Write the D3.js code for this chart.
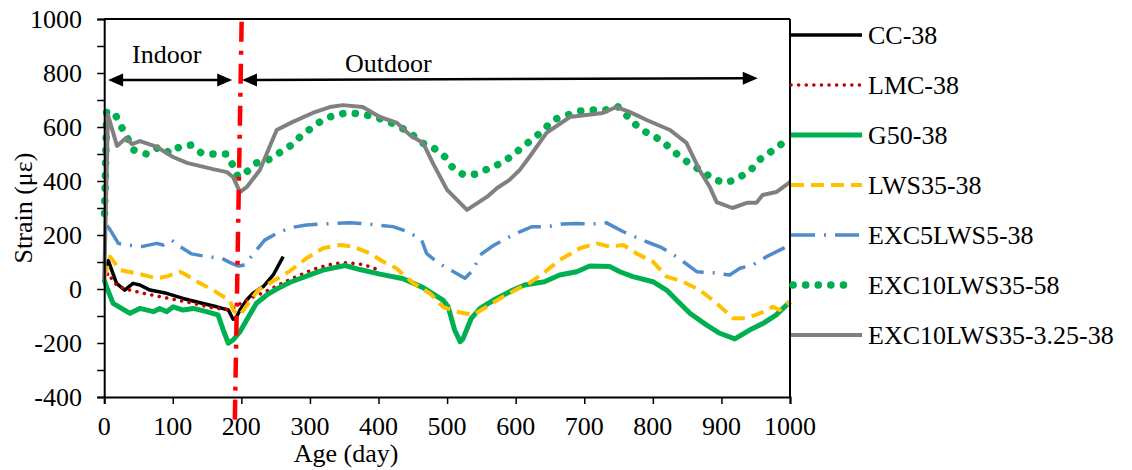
<!DOCTYPE html>
<html>
<head>
<meta charset="utf-8">
<script src="https://cdn.jsdelivr.net/npm/d3@7/dist/d3.min.js"></script>
<style>
html,body{margin:0;padding:0;background:#fff;}
</style>
</head>
<body>
<svg id="chart" width="1132" height="470" font-family="Liberation Serif"></svg>
<script>
// ---- data ----
const seriesNames = ["CC-38","LMC-38","G50-38","LWS35-38","EXC5LWS5-38","EXC10LWS35-58","EXC10LWS35-3.25-38"];
const xTicks = [0,100,200,300,400,500,600,700,800,900,1000];
const yTickLabels = [-400,-200,0,200,400,600,800,1000];
const yMinorTicks = [-400,-300,-200,-100,0,100,200,300,400,500,600,700,800,900,1000];

const cc38 = [[0,40],[6,105],[18,21],[30,-4],[42,21],[52,15],[66.8,-4],[91,-16],[115,-35],[139.7,-51],[164,-66],[181,-78],[188,-112],[192,-108],[198,-78],[207.7,-41],[217,-16],[232,9],[246.5,52],[261,120]];
const lmc38 = [[0,30],[6,60],[13,27],[23,6],[33,-1],[57,-16],[81,-28],[105.7,-41],[130,-53],[154,-68],[173.6,-75],[186,-75],[198,-55],[212.5,-35],[235,-10],[262,25],[293,60],[305,73],[326.7,89],[339,95],[351,97],[363,95],[375,91],[387.5,83],[397,73]];
const g5038 = [[0,35],[3,10],[13,-53],[37.6,-90],[52,-72],[71.6,-84],[81,-72],[91,-84],[100.7,-66],[115,-78],[130,-72],[149,-84],[166,-96],[173.6,-152],[181,-201],[188,-189],[198,-158],[207.7,-115],[222,-53],[237,-22],[251.5,0],[271,25],[300,52],[319,70],[351,87],[373,72],[402,55],[436,38],[465,5],[494,-41],[501.6,-66],[511,-152],[519,-195],[523,-185],[535,-110],[548,-72],[570,-38],[596,-4],[613,15],[642,27],[664,52],[689,64],[708,85],[737,83],[752,64],[771,46],[800,27],[820,-4],[834.5,-41],[854,-90],[878,-133],[897.6,-164],[919.5,-185],[941,-152],[961,-127],[980,-96],[1000,-47]];
const lws3538 = [[0,40],[8.5,120],[23,70],[47,58],[76.5,40],[91,46],[110.5,64],[120,52],[139.7,21],[159,-4],[173.6,-28],[183,-41],[188,-78],[193,-90],[198,-96],[210,-53],[224,-5],[251.5,37],[271,67],[295,114],[319,151],[344,163],[363,157],[387.5,132],[407,101],[426,77],[450.7,21],[475,-16],[494,-66],[514,-84],[538,-96],[557.6,-66],[582,-28],[606,5],[616,15],[640,58],[664,107],[693.6,151],[718,169],[737,157],[757,163],[776,132],[800,101],[820,46],[844,27],[868.5,-4],[893,-53],[917,-108],[936.6,-108],[956,-90],[975,-66],[985,-78],[1000,-47]];
const exc5lws538 = [[4,235],[8.5,220],[20.6,169],[32.8,163],[54.7,157],[76.5,169],[86,163],[98.4,181],[110.5,157],[127.5,130],[149,120],[171,114],[186,95],[196,85],[205,89],[220,138],[234,181],[251.5,206],[271,227],[295,237],[334,243],[358,245],[382.6,241],[421,231],[443,212],[463,181],[470,132],[484.7,101],[505,70],[526,40],[538,70],[548,126],[567,160],[587,188],[606,212],[624,231],[647,231],[669,241],[689,243],[711,241],[732.5,245],[757,212],[791,175],[813,153],[834.5,120],[864,64],[888,60],[912,52],[927,77],[946,89],[966,120],[985,144],[1000,163]];
const exc10lws3558 = [[0.5,280],[3.6,657],[15.7,648],[24.5,604],[33,563],[43,515],[62,500],[81,527],[96,503],[110,527],[126.5,533],[142,503],[160,500],[178.6,500],[188,456],[195,415],[208,434],[222,467],[239,478],[256,505],[273,533],[287,567],[302,596],[318.5,626],[336,644],[355,653],[375,648],[395,637],[414,620],[431,601],[448,574],[464,541],[481,521],[497,489],[508.6,448],[524.5,422],[543,426],[562,448],[580,467],[596,496],[610.5,527],[626.5,559],[641,589],[654,626],[673,642],[692,659],[711,663],[731,663],[749,675],[764,637],[778,601],[794,574],[812,552],[826,519],[842,485],[857,459],[873,434],[890,404],[908,393],[927,415],[942,438],[955,478],[972,508],[987.6,537],[1000,555]];
const exc10lws35325 = [[0,30],[5.5,644],[18.7,530],[31.8,559],[40.5,537],[52.2,548],[77,526],[100.3,489],[120.7,467],[158.6,444],[179,433],[187.8,415],[198,359],[208,378],[227,441],[251.5,589],[275,619],[304,652],[329,674],[348,681],[377,674],[402,637],[427,615],[446,570],[465,541],[479,467],[500,367],[529,293],[558,341],[573,374],[591,404],[606,441],[620,489],[645,578],[679,637],[727,652],[747,674],[766,656],[791,626],[825,589],[849,541],[868,441],[883,378],[893,322],[916,300],[937,319],[951,319],[960,348],[980,359],[1000,396]];

const redLine = [[200.4,990],[190.5,-485]];
const indoorArrow = [[5.7,774],[186.6,774]];
const outdoorArrow = [[200.9,774],[953,781]];

// ---- styles ----
const styles = [
  {stroke:"#000000", width:3.5, dash:null, cap:"butt"},
  {stroke:"#c00000", width:3.5, dash:"0.1 7.5", cap:"round"},
  {stroke:"#00b050", width:5, dash:null, cap:"butt"},
  {stroke:"#ffc000", width:4, dash:"13 7", cap:"butt"},
  {stroke:"#4f8cc9", width:3.5, dash:"24 9 2 9", cap:"butt"},
  {stroke:"#00b050", width:7.5, dash:"0.1 12.5", cap:"round"},
  {stroke:"#808080", width:4, dash:null, cap:"butt"}
];
const seriesData = [cc38,lmc38,g5038,lws3538,exc5lws538,exc10lws3558,exc10lws35325];

// ---- chart ----
const svg = d3.select("#chart");
const L=104.2, R=790, T=19, B=397;
const x = d3.scaleLinear().domain([0,1000]).range([L,R]);
const y = d3.scaleLinear().domain([-400,1000]).range([B,T]);

const line = d3.line().x(d=>x(d[0])).y(d=>y(d[1]));

// series
const g = svg.append("g");
seriesData.forEach((d,i)=>{
  const s = styles[i];
  g.append("path").attr("d",line(d)).attr("fill","none")
    .attr("stroke",s.stroke).attr("stroke-width",s.width)
    .attr("stroke-dasharray",s.dash).attr("stroke-linecap",s.cap)
    .attr("stroke-linejoin","round");
});

// frame
svg.append("line").attr("x1",L).attr("x2",R).attr("y1",T).attr("y2",T).attr("stroke","#000").attr("stroke-width",2);
svg.append("line").attr("x1",R).attr("x2",R).attr("y1",T).attr("y2",B).attr("stroke","#000").attr("stroke-width",2);

// y axis
const yAxis = d3.axisLeft(y).tickValues(yMinorTicks).tickSize(7).tickFormat("");
const ya = svg.append("g").attr("transform",`translate(${L},0)`).call(yAxis);
ya.select(".domain").attr("stroke-width",2);
ya.selectAll(".tick line").attr("stroke-width",1.5);
yTickLabels.forEach(v=>{
  svg.append("text").attr("x",82).attr("y",y(v)).attr("dy","0.35em")
    .attr("text-anchor","end").attr("font-size",26).text(v);
});

// x axis
const xAxis = d3.axisBottom(x).tickValues(xTicks).tickSize(7).tickFormat("");
const xa = svg.append("g").attr("transform",`translate(0,${B})`).call(xAxis);
xa.select(".domain").attr("stroke-width",2);
xa.selectAll(".tick line").attr("stroke-width",1.5);
xTicks.forEach(v=>{
  svg.append("text").attr("x",x(v)).attr("y",435).attr("text-anchor","middle").attr("font-size",26).text(v);
});

// red vertical line
svg.append("path").attr("d",line(redLine)).attr("fill","none").attr("stroke","#ff0000")
  .attr("stroke-width",4.5).attr("stroke-dasharray","20 9 4 9");

// arrows
function arrow(pts){
  const x1=x(pts[0][0]), y1=y(pts[0][1]), x2=x(pts[1][0]), y2=y(pts[1][1]);
  const ang=Math.atan2(y2-y1,x2-x1);
  const hl=15, hw=6.5;
  const ca=Math.cos(ang), sa=Math.sin(ang);
  svg.append("line").attr("x1",x1+ca*hl*0.8).attr("y1",y1+sa*hl*0.8).attr("x2",x2-ca*hl*0.8).attr("y2",y2-sa*hl*0.8)
    .attr("stroke","#000").attr("stroke-width",2.5);
  const head=(px,py,dir)=>{
    const dx=ca*dir, dy=sa*dir;
    const bx=px-dx*hl, by=py-dy*hl;
    svg.append("path").attr("d",`M${px},${py}L${bx-dy*hw},${by+dx*hw}L${bx+dy*hw},${by-dx*hw}Z`).attr("fill","#000");
  };
  head(x2,y2,1); head(x1,y1,-1);
}
arrow(indoorArrow);
arrow(outdoorArrow);

svg.append("text").attr("x",132).attr("y",63).attr("font-size",26).text("Indoor");
svg.append("text").attr("x",345).attr("y",72).attr("font-size",26).text("Outdoor");

// axis titles
svg.append("text").attr("x",346).attr("y",462).attr("text-anchor","middle").attr("font-size",26).text("Age (day)");
svg.append("text").attr("transform","translate(32,208) rotate(-90)").attr("text-anchor","middle").attr("font-size",26).text("Strain (με)");

// legend
const lg = svg.append("g");
seriesNames.forEach((n,i)=>{
  const s=styles[i];
  const yy=35+i*50;
  lg.append("line").attr("x1",i===5?793:791).attr("x2",i===5?853:862).attr("y1",yy).attr("y2",yy)
    .attr("stroke",s.stroke).attr("stroke-width",s.width)
    .attr("stroke-dasharray",s.dash).attr("stroke-linecap",s.cap);
  lg.append("text").attr("x",868).attr("y",yy).attr("dy","0.35em").attr("font-size",26).text(n);
});
</script>
</body>
</html>
